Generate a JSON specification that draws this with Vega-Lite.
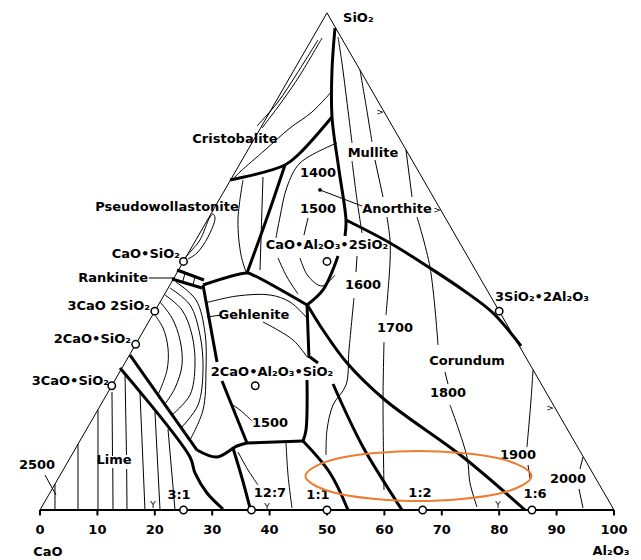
{
"$schema": "https://vega.github.io/schema/vega-lite/v6.json",
"width": 641, "height": 560, "autosize": {"type": "none"}, "padding": 0,
"background": "white",
"config": {"view": {"stroke": null}},
"datasets": {
"thick": [
{"id":"A","o":1,"x":51.39,"y":83.97},{"id":"A","o":2,"x":50.87,"y":76.66},{"id":"A","o":3,"x":50.87,"y":68.47},{"id":"A","o":4,"x":52.09,"y":59.23},{"id":"A","o":5,"x":53.31,"y":50.52},{"id":"A","o":6,"x":53.14,"y":47.74},
{"id":"E","o":1,"x":51.92,"y":44.25},{"id":"E","o":2,"x":49.30,"y":38.33},{"id":"E","o":3,"x":46.52,"y":35.72},
{"id":"B","o":1,"x":50.87,"y":68.47},{"id":"B","o":2,"x":45.30,"y":62.20},{"id":"B","o":3,"x":42.68,"y":60.11},{"id":"B","o":4,"x":33.10,"y":57.49},
{"id":"C","o":1,"x":42.68,"y":60.11},{"id":"C","o":2,"x":39.72,"y":51.39},{"id":"C","o":3,"x":36.06,"y":41.29},
{"id":"F","o":1,"x":46.52,"y":35.72},{"id":"F","o":2,"x":37.11,"y":40.94},{"id":"F","o":3,"x":36.06,"y":41.29},{"id":"F","o":4,"x":28.40,"y":39.20},
{"id":"R1","o":1,"x":23.87,"y":41.81},{"id":"R1","o":2,"x":28.57,"y":40.07},
{"id":"R2","o":1,"x":23.00,"y":40.24},{"id":"R2","o":2,"x":28.22,"y":38.68},
{"id":"G1","o":1,"x":28.40,"y":39.20},{"id":"G1","o":2,"x":30.84,"y":25.78},
{"id":"G2","o":1,"x":31.71,"y":22.47},{"id":"G2","o":2,"x":36.06,"y":11.67},
{"id":"H","o":1,"x":36.06,"y":11.67},{"id":"H","o":2,"x":45.82,"y":12.02},
{"id":"I1","o":1,"x":46.52,"y":35.72},{"id":"I1","o":2,"x":46.86,"y":26.48},
{"id":"I2","o":1,"x":46.52,"y":22.65},{"id":"I2","o":2,"x":46.34,"y":13.94},{"id":"I2","o":3,"x":45.82,"y":12.02},
{"id":"J","o":1,"x":45.82,"y":12.02},{"id":"J","o":2,"x":50.52,"y":6.45},{"id":"J","o":3,"x":53.66,"y":0},
{"id":"K1","o":1,"x":47.04,"y":26.66},{"id":"K1","o":2,"x":48.43,"y":25.61},
{"id":"K2","o":1,"x":51.05,"y":21.95},{"id":"K2","o":2,"x":56.27,"y":10.98},{"id":"K2","o":3,"x":63.07,"y":0},
{"id":"D2","o":1,"x":46.69,"y":35.55},{"id":"D2","o":2,"x":49.30,"y":31.36},{"id":"D2","o":3,"x":53.49,"y":25.61},{"id":"D2","o":4,"x":60.11,"y":19.16},{"id":"D2","o":5,"x":73.69,"y":9.23},{"id":"D2","o":6,"x":84.50,"y":0},
{"id":"D","o":1,"x":53.31,"y":50.52},{"id":"D","o":2,"x":60.98,"y":46.52},{"id":"D","o":3,"x":67.94,"y":42.16},{"id":"D","o":4,"x":73.69,"y":38.33},{"id":"D","o":5,"x":78.92,"y":34.32},{"id":"D","o":6,"x":83.80,"y":28.57},
{"id":"L1","o":1,"x":15.68,"y":27.00},{"id":"L1","o":2,"x":27.35,"y":10.45},
{"id":"L2","o":1,"x":13.94,"y":24.74},{"id":"L2","o":2,"x":26.13,"y":9.23},{"id":"L2","o":3,"x":27.00,"y":6.45},{"id":"L2","o":4,"x":29.09,"y":2.96},{"id":"L2","o":5,"x":31.88,"y":0.17},
{"id":"M","o":1,"x":27.35,"y":10.45},{"id":"M","o":2,"x":30.84,"y":9.23},{"id":"M","o":3,"x":34.32,"y":11.15},{"id":"M","o":4,"x":36.06,"y":11.67},
{"id":"N","o":1,"x":33.62,"y":10.80},{"id":"N","o":2,"x":35.19,"y":5.57},{"id":"N","o":3,"x":36.59,"y":0.35}
],
"thin": [
{"id":"edgeL","o":1,"x":0,"y":0},{"id":"edgeL","o":2,"x":50,"y":86.6},
{"id":"edgeR","o":1,"x":50,"y":86.6},{"id":"edgeR","o":2,"x":100,"y":0},
{"id":"T1","o":1,"x":49.13,"y":82.23},{"id":"T1","o":2,"x":45.30,"y":75.78},{"id":"T1","o":3,"x":42.34,"y":71.43},{"id":"T1","o":4,"x":38.68,"y":66.55},
{"id":"T1b","o":1,"x":48.43,"y":81.88},{"id":"T1b","o":2,"x":44.60,"y":75.78},{"id":"T1b","o":3,"x":41.46,"y":71.08},{"id":"T1b","o":4,"x":37.81,"y":66.90},
{"id":"T2","o":1,"x":51.05,"y":73.17},{"id":"T2","o":2,"x":47.39,"y":69.34},{"id":"T2","o":3,"x":43.56,"y":66.55},{"id":"T2","o":4,"x":39.20,"y":62.72},{"id":"T2","o":5,"x":34.84,"y":58.89},{"id":"T2","o":6,"x":33.45,"y":57.49},
{"id":"T3","o":1,"x":51.74,"y":63.94},{"id":"T3","o":2,"x":45.30,"y":60.45},{"id":"T3","o":3,"x":43.03,"y":56.27},{"id":"T3","o":4,"x":41.81,"y":51.05},{"id":"T3","o":5,"x":41.11,"y":47.39},
{"id":"T4","o":1,"x":35.37,"y":57.49},{"id":"T4","o":2,"x":34.49,"y":50.52},{"id":"T4","o":3,"x":35.02,"y":44.43},{"id":"T4","o":4,"x":35.89,"y":41.46},
{"id":"T5","o":1,"x":38.85,"y":58.01},{"id":"T5","o":2,"x":38.33,"y":41.81},
{"id":"T6","o":1,"x":25.26,"y":43.90},{"id":"T6","o":2,"x":26.48,"y":45.30},{"id":"T6","o":3,"x":27.87,"y":47.04},{"id":"T6","o":4,"x":29.62,"y":51.05},{"id":"T6","o":5,"x":30.14,"y":51.57},{"id":"T6","o":6,"x":30.49,"y":50.87},{"id":"T6","o":7,"x":29.27,"y":47.56},{"id":"T6","o":8,"x":27.35,"y":44.77},{"id":"T6","o":9,"x":25.78,"y":43.73},
{"id":"T8a","o":1,"x":46.69,"y":50.87},{"id":"T8a","o":2,"x":45.99,"y":47.91},
{"id":"T8b","o":1,"x":45.30,"y":43.90},{"id":"T8b","o":2,"x":46.69,"y":40.77},{"id":"T8b","o":3,"x":49.13,"y":39.02},{"id":"T8b","o":4,"x":51.39,"y":40.94},
{"id":"T11","o":1,"x":41.46,"y":43.90},{"id":"T11","o":2,"x":43.03,"y":40.59},{"id":"T11","o":3,"x":44.95,"y":37.63},
{"id":"T9","o":1,"x":28.75,"y":36.06},{"id":"T9","o":2,"x":34.32,"y":37.28},{"id":"T9","o":3,"x":40.07,"y":37.46},{"id":"T9","o":4,"x":43.55,"y":36.24},{"id":"T9","o":5,"x":46.52,"y":33.45},
{"id":"T10","o":1,"x":38.85,"y":32.75},{"id":"T10","o":2,"x":44.08,"y":29.62},{"id":"T10","o":3,"x":46.52,"y":26.66},
{"id":"rb1","o":1,"x":25.26,"y":41.29},{"id":"rb1","o":2,"x":24.91,"y":39.90},
{"id":"rb2","o":1,"x":27.00,"y":40.59},{"id":"rb2","o":2,"x":26.65,"y":39.20},
{"id":"lg","o":1,"x":29.09,"y":33.62},{"id":"lg","o":2,"x":31.53,"y":33.97},
{"id":"l15","o":1,"x":33.10,"y":18.64},{"id":"l15","o":2,"x":34.84,"y":17.42},{"id":"l15","o":3,"x":36.93,"y":15.51},
{"id":"l25","o":1,"x":0.87,"y":6.10},{"id":"l25","o":2,"x":2.79,"y":2.61},
{"id":"lr","o":1,"x":18.99,"y":40.42},{"id":"lr","o":2,"x":23.52,"y":40.42},
{"id":"la","o":1,"x":48.78,"y":55.75},{"id":"la","o":2,"x":56.10,"y":52.96},
{"id":"a1","o":1,"x":21.78,"y":37.46},{"id":"a1","o":2,"x":24.74,"y":34.84},{"id":"a1","o":3,"x":26.48,"y":30.49},{"id":"a1","o":4,"x":27.00,"y":25.26},{"id":"a1","o":5,"x":26.13,"y":20.04},{"id":"a1","o":6,"x":23.00,"y":16.55},
{"id":"a2","o":1,"x":22.65,"y":38.68},{"id":"a2","o":2,"x":26.13,"y":35.72},{"id":"a2","o":3,"x":27.87,"y":30.49},{"id":"a2","o":4,"x":28.40,"y":24.74},{"id":"a2","o":5,"x":27.53,"y":18.29},{"id":"a2","o":6,"x":24.56,"y":14.29},
{"id":"a3","o":1,"x":23.69,"y":39.72},{"id":"a3","o":2,"x":27.18,"y":36.59},{"id":"a3","o":3,"x":28.75,"y":30.84},{"id":"a3","o":4,"x":28.92,"y":24.39},{"id":"a3","o":5,"x":28.40,"y":17.42},{"id":"a3","o":6,"x":26.13,"y":12.20},
{"id":"a4","o":1,"x":20.91,"y":36.24},{"id":"a4","o":2,"x":23.00,"y":33.45},{"id":"a4","o":3,"x":24.39,"y":29.62},{"id":"a4","o":4,"x":24.74,"y":25.26},{"id":"a4","o":5,"x":23.52,"y":21.25},{"id":"a4","o":6,"x":21.78,"y":18.47},
{"id":"a5","o":1,"x":20.03,"y":33.97},{"id":"a5","o":2,"x":21.43,"y":31.71},{"id":"a5","o":3,"x":22.30,"y":28.22},{"id":"a5","o":4,"x":22.13,"y":24.39},{"id":"a5","o":5,"x":20.56,"y":20.04},
{"id":"V0","o":1,"x":2.61,"y":4.53},{"id":"V0","o":2,"x":2.61,"y":0},
{"id":"V1","o":1,"x":6.62,"y":11.50},{"id":"V1","o":2,"x":6.62,"y":0},
{"id":"V2","o":1,"x":10.10,"y":17.42},{"id":"V2","o":2,"x":10.10,"y":0},
{"id":"V3a","o":1,"x":12.54,"y":20.56},{"id":"V3a","o":2,"x":12.63,"y":9.41},
{"id":"V3b","o":1,"x":12.68,"y":7.32},{"id":"V3b","o":2,"x":12.72,"y":0},
{"id":"V4a","o":1,"x":14.81,"y":23.69},{"id":"V4a","o":2,"x":15.07,"y":9.58},
{"id":"V4b","o":1,"x":15.10,"y":7.14},{"id":"V4b","o":2,"x":15.16,"y":0},
{"id":"V5","o":1,"x":17.42,"y":20.38},{"id":"V5","o":2,"x":18.29,"y":0},
{"id":"V6","o":1,"x":20.03,"y":17.07},{"id":"V6","o":2,"x":20.91,"y":0},
{"id":"V7","o":1,"x":22.30,"y":14.11},{"id":"V7","o":2,"x":23.52,"y":0},
{"id":"W1","o":1,"x":42.86,"y":11.67},{"id":"W1","o":2,"x":43.21,"y":6.10},{"id":"W1","o":3,"x":43.90,"y":0.35},
{"id":"Np","o":1,"x":34.49,"y":10.10},{"id":"Np","o":2,"x":36.24,"y":6.97},{"id":"Np","o":3,"x":37.98,"y":4.35},
{"id":"p1","o":1,"x":51.92,"y":82.40},{"id":"p1","o":2,"x":52.61,"y":77.87},{"id":"p1","o":3,"x":54.36,"y":63.94},
{"id":"p2","o":1,"x":54.36,"y":60.80},{"id":"p2","o":2,"x":55.23,"y":54.01},{"id":"p2","o":3,"x":56.10,"y":48.26},
{"id":"p3","o":1,"x":55.23,"y":44.25},{"id":"p3","o":2,"x":55.05,"y":41.46},
{"id":"p4","o":1,"x":54.70,"y":36.94},{"id":"p4","o":2,"x":53.83,"y":27.87},{"id":"p4","o":3,"x":53.31,"y":21.78},{"id":"p4","o":4,"x":51.05,"y":18.29},{"id":"p4","o":5,"x":50.00,"y":13.94},{"id":"p4","o":6,"x":49.83,"y":9.58},
{"id":"q1","o":1,"x":55.75,"y":76.66},{"id":"q1","o":2,"x":56.79,"y":70.56},{"id":"q1","o":3,"x":57.84,"y":64.11},
{"id":"q2","o":1,"x":58.36,"y":60.98},{"id":"q2","o":2,"x":59.76,"y":54.53},
{"id":"q3","o":1,"x":60.45,"y":51.05},{"id":"q3","o":2,"x":60.98,"y":47.04},{"id":"q3","o":3,"x":60.98,"y":43.21},{"id":"q3","o":4,"x":60.28,"y":33.97},
{"id":"q4","o":1,"x":59.93,"y":29.27},{"id":"q4","o":2,"x":59.76,"y":19.16},{"id":"q4","o":3,"x":59.93,"y":3.48},
{"id":"r1","o":1,"x":63.76,"y":62.72},{"id":"r1","o":2,"x":64.81,"y":54.53},
{"id":"r2","o":1,"x":65.68,"y":51.05},{"id":"r2","o":2,"x":67.94,"y":42.33},{"id":"r2","o":3,"x":69.34,"y":28.75},
{"id":"r3","o":1,"x":70.56,"y":24.04},{"id":"r3","o":2,"x":71.08,"y":21.95},
{"id":"r4","o":1,"x":71.43,"y":18.29},{"id":"r4","o":2,"x":74.39,"y":9.23},{"id":"r4","o":3,"x":74.91,"y":4.70},{"id":"r4","o":4,"x":76.13,"y":0.52},
{"id":"s1","o":1,"x":85.89,"y":24.39},{"id":"s1","o":2,"x":85.54,"y":19.16},{"id":"s1","o":3,"x":84.84,"y":10.98},
{"id":"s2","o":1,"x":85.02,"y":7.84},{"id":"s2","o":2,"x":85.37,"y":5.57},
{"id":"u1","o":1,"x":94.60,"y":9.23},{"id":"u1","o":2,"x":94.08,"y":7.14},
{"id":"u2","o":1,"x":93.90,"y":3.66},{"id":"u2","o":2,"x":94.60,"y":0.35}
],
"base": [{"x":0,"y":0},{"x":100,"y":0}],
"ticks": [{"x":0,"t":"0"},{"x":10,"t":"10"},{"x":20,"t":"20"},{"x":30,"t":"30"},{"x":40,"t":"40"},{"x":50,"t":"50"},{"x":60,"t":"60"},{"x":70,"t":"70"},{"x":80,"t":"80"},{"x":90,"t":"90"},{"x":100,"t":"100"}],
"ellipse": [{"o":1,"x":85.63,"y":5.92},{"o":2,"x":79.86,"y":2.84},{"o":3,"x":65.94,"y":1.56},{"o":4,"x":52.02,"y":2.84},{"o":5,"x":46.25,"y":5.92},{"o":6,"x":52.02,"y":9.00},{"o":7,"x":65.94,"y":10.28},{"o":8,"x":79.86,"y":9.00}],
"compounds": [{"x":25,"y":0},{"x":36.84,"y":0},{"x":50,"y":0},{"x":66.67,"y":0},{"x":85.71,"y":0},{"x":25,"y":43.30},{"x":20,"y":34.64},{"x":16.67,"y":28.87},{"x":12.5,"y":21.65},{"x":50,"y":43.30},{"x":37.5,"y":21.65},{"x":80,"y":34.64}],
"dots": [{"x":48.78,"y":55.75}],
"labelsC": [
{"t":"Cristobalite","x":33.97,"y":64.63},{"t":"Mullite","x":58.01,"y":62.20},{"t":"1400","x":48.43,"y":58.71},{"t":"Pseudowollastonite","x":22.13,"y":52.79},{"t":"1500","x":48.43,"y":52.44},{"t":"Anorthite","x":62.20,"y":52.44},{"t":"CaO•Al₂O₃•2SiO₂","x":50.0,"y":46.17},{"t":"1600","x":56.27,"y":39.20},{"t":"Gehlenite","x":37.28,"y":33.97},{"t":"1700","x":61.85,"y":31.71},{"t":"Corundum","x":74.39,"y":25.96},{"t":"2CaO•Al₂O₃•SiO₂","x":40.42,"y":24.04},{"t":"1800","x":71.08,"y":20.38},{"t":"1500","x":40.07,"y":15.16},{"t":"1900","x":83.28,"y":9.58},{"t":"2500","x":-0.52,"y":7.84},{"t":"Lime","x":12.89,"y":8.71},{"t":"2000","x":91.99,"y":5.40},{"t":"3:1","x":24.22,"y":2.61},{"t":"12:7","x":40.07,"y":2.96},{"t":"1:1","x":48.43,"y":2.61},{"t":"1:2","x":66.20,"y":2.96},{"t":"1:6","x":86.24,"y":2.79},{"t":"CaO","x":1.39,"y":-7.32},{"t":"Al₂O₃","x":99.48,"y":-7.14}
],
"labelsR": [
{"t":"CaO•SiO₂","x":24.39,"y":44.6},{"t":"Rankinite","x":18.82,"y":40.42},{"t":"3CaO 2SiO₂","x":19.16,"y":35.54},{"t":"2CaO•SiO₂","x":15.85,"y":29.79},{"t":"3CaO•SiO₂","x":12.02,"y":22.47}
],
"labelsL": [
{"t":"SiO₂","x":52.79,"y":85.71},{"t":"3SiO₂•2Al₂O₃","x":79.27,"y":37.11}
],
"marks": [
{"t":">","x":59.23,"y":69.34},{"t":">","x":69.16,"y":52.26},{"t":">","x":88.85,"y":17.77},{"t":"Y","x":19.69,"y":0.9},{"t":"Y","x":39.55,"y":0.6},{"t":"Y","x":79.79,"y":0.9}
]
},
"layer": [
{"data": {"name": "thin"}, "mark": {"type": "line", "stroke": "black", "strokeWidth": 1, "interpolate": "catmull-rom"},
 "encoding": {
  "x": {"field": "x", "type": "quantitative", "scale": {"domain": [-6.968, 104.704], "nice": false, "zero": false}, "axis": null},
  "y": {"field": "y", "type": "quantitative", "scale": {"domain": [-8.711, 88.85], "nice": false, "zero": false}, "axis": null},
  "detail": {"field": "id"}, "order": {"field": "o", "type": "quantitative"}}},
{"data": {"name": "thick"}, "mark": {"type": "line", "stroke": "black", "strokeWidth": 3, "interpolate": "catmull-rom"},
 "encoding": {
  "x": {"field": "x", "type": "quantitative", "scale": {"domain": [-6.968, 104.704], "nice": false, "zero": false}, "axis": null},
  "y": {"field": "y", "type": "quantitative", "scale": {"domain": [-8.711, 88.85], "nice": false, "zero": false}, "axis": null},
  "detail": {"field": "id"}, "order": {"field": "o", "type": "quantitative"}}},
{"data": {"name": "base"}, "mark": {"type": "line", "stroke": "black", "strokeWidth": 2},
 "encoding": {
  "x": {"field": "x", "type": "quantitative", "scale": {"domain": [-6.968, 104.704], "nice": false, "zero": false}, "axis": null},
  "y": {"field": "y", "type": "quantitative", "scale": {"domain": [-8.711, 88.85], "nice": false, "zero": false}, "axis": null}}},
{"data": {"name": "ticks"}, "mark": {"type": "rule", "stroke": "black", "strokeWidth": 2},
 "encoding": {
  "x": {"field": "x", "type": "quantitative", "scale": {"domain": [-6.968, 104.704], "nice": false, "zero": false}, "axis": null},
  "y": {"datum": 0, "type": "quantitative", "scale": {"domain": [-8.711, 88.85], "nice": false, "zero": false}, "axis": null},
  "y2": {"datum": -0.95}}},
{"data": {"name": "ticks"}, "mark": {"type": "text", "color": "black", "font": "DejaVu Sans", "fontWeight": "bold", "fontSize": 13, "align": "center", "baseline": "middle"},
 "encoding": {
  "x": {"field": "x", "type": "quantitative", "scale": {"domain": [-6.968, 104.704], "nice": false, "zero": false}, "axis": null},
  "y": {"datum": -3.4, "type": "quantitative", "scale": {"domain": [-8.711, 88.85], "nice": false, "zero": false}, "axis": null},
  "text": {"field": "t"}}},
{"data": {"name": "compounds"}, "mark": {"type": "point", "shape": "circle", "filled": true, "fill": "white", "stroke": "black", "strokeWidth": 1.5, "size": 55, "opacity": 1},
 "encoding": {
  "x": {"field": "x", "type": "quantitative", "scale": {"domain": [-6.968, 104.704], "nice": false, "zero": false}, "axis": null},
  "y": {"field": "y", "type": "quantitative", "scale": {"domain": [-8.711, 88.85], "nice": false, "zero": false}, "axis": null}}},
{"data": {"name": "dots"}, "mark": {"type": "point", "shape": "circle", "filled": true, "color": "black", "size": 14, "opacity": 1},
 "encoding": {
  "x": {"field": "x", "type": "quantitative", "scale": {"domain": [-6.968, 104.704], "nice": false, "zero": false}, "axis": null},
  "y": {"field": "y", "type": "quantitative", "scale": {"domain": [-8.711, 88.85], "nice": false, "zero": false}, "axis": null}}},
{"data": {"name": "labelsC"}, "mark": {"type": "text", "color": "black", "font": "DejaVu Sans", "fontWeight": "bold", "fontSize": 13, "align": "center", "baseline": "middle"},
 "encoding": {
  "x": {"field": "x", "type": "quantitative", "scale": {"domain": [-6.968, 104.704], "nice": false, "zero": false}, "axis": null},
  "y": {"field": "y", "type": "quantitative", "scale": {"domain": [-8.711, 88.85], "nice": false, "zero": false}, "axis": null},
  "text": {"field": "t"}}},
{"data": {"name": "labelsR"}, "mark": {"type": "text", "color": "black", "font": "DejaVu Sans", "fontWeight": "bold", "fontSize": 13, "align": "right", "baseline": "middle"},
 "encoding": {
  "x": {"field": "x", "type": "quantitative", "scale": {"domain": [-6.968, 104.704], "nice": false, "zero": false}, "axis": null},
  "y": {"field": "y", "type": "quantitative", "scale": {"domain": [-8.711, 88.85], "nice": false, "zero": false}, "axis": null},
  "text": {"field": "t"}}},
{"data": {"name": "labelsL"}, "mark": {"type": "text", "color": "black", "font": "DejaVu Sans", "fontWeight": "bold", "fontSize": 13, "align": "left", "baseline": "middle"},
 "encoding": {
  "x": {"field": "x", "type": "quantitative", "scale": {"domain": [-6.968, 104.704], "nice": false, "zero": false}, "axis": null},
  "y": {"field": "y", "type": "quantitative", "scale": {"domain": [-8.711, 88.85], "nice": false, "zero": false}, "axis": null},
  "text": {"field": "t"}}},
{"data": {"name": "marks"}, "mark": {"type": "text", "color": "black", "font": "DejaVu Sans", "fontSize": 9, "align": "center", "baseline": "middle"},
 "encoding": {
  "x": {"field": "x", "type": "quantitative", "scale": {"domain": [-6.968, 104.704], "nice": false, "zero": false}, "axis": null},
  "y": {"field": "y", "type": "quantitative", "scale": {"domain": [-8.711, 88.85], "nice": false, "zero": false}, "axis": null},
  "text": {"field": "t"}}},
{"data": {"name": "ellipse"}, "mark": {"type": "line", "stroke": "#ED7D31", "strokeWidth": 2, "interpolate": "cardinal-closed"},
 "encoding": {
  "x": {"field": "x", "type": "quantitative", "scale": {"domain": [-6.968, 104.704], "nice": false, "zero": false}, "axis": null},
  "y": {"field": "y", "type": "quantitative", "scale": {"domain": [-8.711, 88.85], "nice": false, "zero": false}, "axis": null},
  "order": {"field": "o", "type": "quantitative"}}}
]
}
